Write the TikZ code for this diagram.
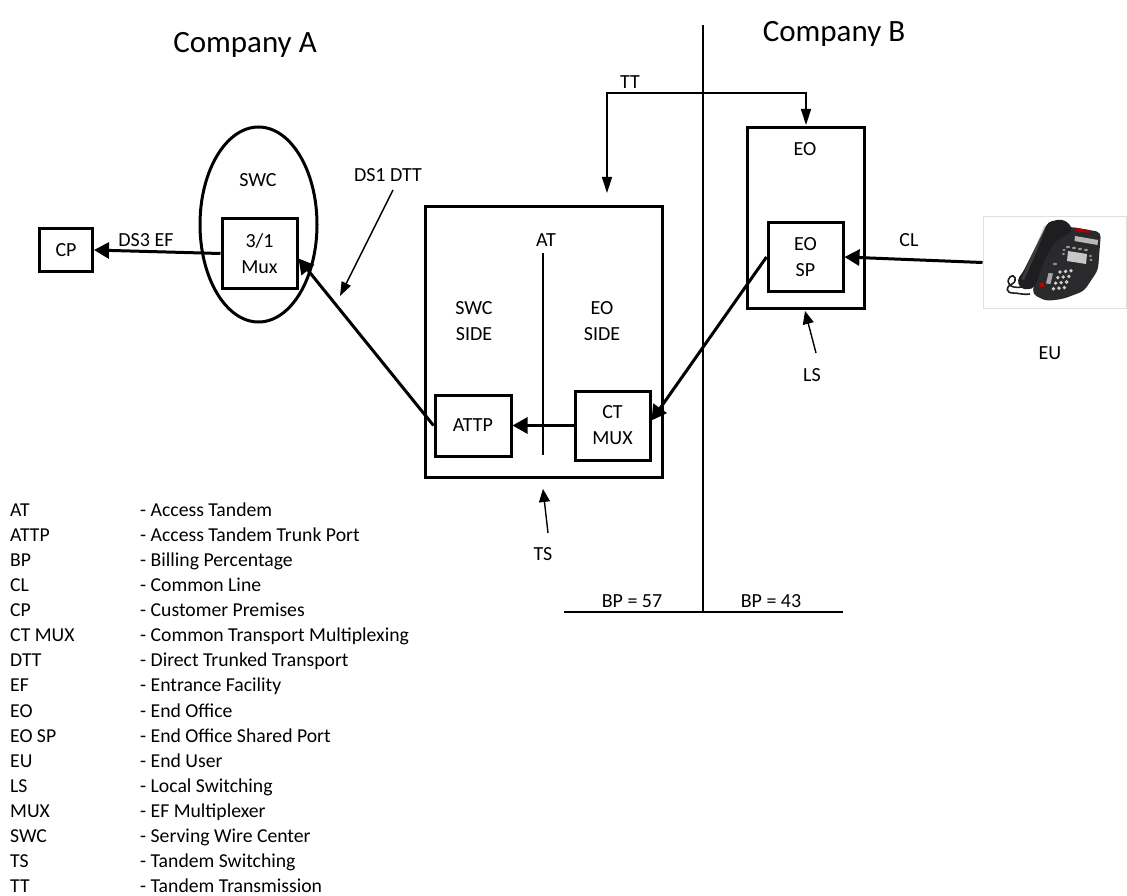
\documentclass[tikz,border=0pt]{standalone}
\usepackage{fontspec}
\setmainfont{Carlito}
\usetikzlibrary{arrows.meta,shapes.geometric}
\definecolor{phonedark}{RGB}{30,30,32}
\definecolor{phonebase}{RGB}{42,42,45}
\definecolor{phonekey}{RGB}{205,205,205}
\begin{document}
\begin{tikzpicture}[x=1pt,y=-1pt,
  every node/.style={font=\fontsize{20}{26}\selectfont, inner sep=0pt},
  box/.style 2 args={draw, line width=3pt, minimum width=#1, minimum height=#2, align=center},
  thickarrow/.style={line width=3pt, -{Triangle[length=15pt,width=16pt]}},
  thinline/.style={line width=1.4pt},
  thinarrow/.style={line width=1.4pt, -{Triangle[length=14pt,width=10pt]}},
  titlefont/.style={font=\fontsize{31}{36}\selectfont},
  legfont/.style={font=\fontsize{19.7}{24}\selectfont}]
\useasboundingbox (0,0) rectangle (1127,896);

% titles
\node[titlefont, anchor=base] (compA) at (245,53) {Company A};
\node[titlefont, anchor=base] (compB) at (834,42) {Company B};

% company divider and BP line
\coordinate (divTop) at (703,25);
\coordinate (divBot) at (703,612);
\coordinate (bpL) at (564,612);
\coordinate (bpR) at (843,612);
\draw[thinline] (divTop) -- (divBot);
\draw[thinline] (bpL) -- (bpR);
\node (bp57) at (632,601) {BP = 57};
\node (bp43) at (771,601) {BP = 43};

% Company A side
\node[box={53pt}{42pt}] (CP) at (66,250) {CP};
\node[draw, ellipse, line width=3pt, minimum width=117pt, minimum height=195pt] (SWCell) at (258.5,224.5) {};
\node (SWClbl) at (258,180) {SWC};
\node[box={75pt}{69pt}] (Mux) at (259.5,253.5) {3/1\\Mux};
\node (ds3) at (146,240) {DS3 EF};
\node (ds1) at (388,175) {DS1 DTT};
\coordinate (dttS) at (393,190);
\coordinate (dttE) at (340,296);
\draw[thinarrow] (dttS) -- (dttE);

% Access tandem
\node[box={237pt}{270pt}] (AT) at (543.5,342) {};
\node (ATlbl) at (546,240) {AT};
\coordinate (atTop) at (543,253);
\coordinate (atBot) at (543,455);
\draw[thinline] (atTop) -- (atBot);
\node[align=center] (swcside) at (474,321) {SWC\\SIDE};
\node[align=center] (eoside) at (602,321) {EO\\SIDE};
\node[box={76pt}{61pt}] (ATTP) at (473,425.5) {ATTP};
\node[box={75pt}{69pt}] (CTMUX) at (612.5,425.5) {CT\\MUX};
\node (TSlbl) at (543,554) {TS};
\coordinate (tsS) at (548,533);
\coordinate (tsE) at (543,489);
\draw[thinline, -{Triangle[length=13pt,width=11pt]}] (tsS) -- (tsE);

% End office
\node[box={117pt}{180pt}] (EO) at (805.5,218) {};
\node (EOlbl) at (805,149) {EO};
\node[box={75pt}{68pt}] (EOSP) at (805.5,257) {EO\\SP};
\node (LSlbl) at (812,375) {LS};
\coordinate (lsS) at (816,353);
\coordinate (lsE) at (805,311);
\draw[thinline, -{Triangle[length=13pt,width=11pt]}] (lsS) -- (lsE);
\node (CLlbl) at (909,240) {CL};
\node (EUlbl) at (1050,353) {EU};

% TT connector
\coordinate (ttA) at (607,193);
\coordinate (ttL) at (607,93);
\coordinate (ttR) at (806,93);
\coordinate (ttB) at (806,125);
\draw[thinline, {Triangle[length=16pt,width=10pt]}-{Triangle[length=16pt,width=10pt]}] (ttA) -- (ttL) -- (ttR) -- (ttB);
\node (TTlbl) at (630,82) {TT};

% phone picture
\node[draw=black!12, line width=1pt, minimum width=143pt, minimum height=91pt] (phone) at (1054.5,262.5) {};
% base
\fill[phonebase, rounded corners=5pt] (1064,226) -- (1101,232) -- (1098,270) -- (1084,291) -- (1063,299) -- (1046,301) -- (1032,294) -- (1045,240) -- cycle;
% red strip and display
\fill[red!65!black] (1075,227.5) -- (1089,230) -- (1088.5,233) -- (1074.5,230.5) -- cycle;
\fill[black!28] (1075,236) -- (1098,240) -- (1097.5,245) -- (1074.5,241) -- cycle;
\foreach \k in {0,1,2,3} {
  \fill[black!40] ({1068+6*\k},{247+1*\k}) ellipse (2 and 1.2);
}
\fill[black!22] (1068,251) -- (1087,254) -- (1086,264) -- (1067,261) -- cycle;
\foreach \k in {0,1} {
  \fill[black!40] ({1064-0.5*\k},{250+4*\k}) ellipse (1.8 and 1.1);
  \fill[black!40] ({1090.5+0.5*\k},{256+4*\k}) ellipse (1.8 and 1.1);
}
\fill[black!45] (1055,264) ellipse (2.2 and 1.3);
% keypad
\foreach \r in {0,1,2,3} {
  \foreach \c in {0,1,2} {
    \fill[phonekey] ({1060+5.5*\c-2.2*\r},{272+5.6*\r-0.6*\c}) circle (1.9);
  }
}
\fill[black!35] (1048.5,273) -- (1053,273.5) -- (1050.5,284) -- (1046,283.5) -- cycle;
\fill[red!75!black] (1042,285) circle (2.4);
% handset
\fill[phonedark, rounded corners=4pt] (1048,222) -- (1062,219) -- (1071,225) -- (1072,232) -- (1065,235) -- (1055,242) -- (1047,255) -- (1040,272) -- (1035,287) -- (1028,290) -- (1020,288) -- (1017,280) -- (1023,272) -- (1033,252) -- (1043,232) -- cycle;
\fill[black!55, opacity=0.35] (1046,226) .. controls (1040,245) and (1032,262) .. (1024,280) -- (1021,279) .. controls (1029,262) and (1037,244) .. (1044,226) -- cycle;
% cord
\draw[phonedark, line width=1.6pt] (1022,287) .. controls (1010,289) and (1005,283) .. (1010,277)
  .. controls (1015,273) and (1018,281) .. (1012,284)
  .. controls (1005,287) and (1006,293) .. (1013,293)
  .. controls (1019,293) and (1022,295) .. (1030,294);

% thick signal arrows
\draw[thickarrow] (Mux.west) -- (CP.east);
\draw[thickarrow] (ATTP.west) -- ([yshift=-5pt]Mux.east);
\draw[thickarrow] (CTMUX.west) -- (ATTP.east);
\draw[thickarrow] (EOSP.west) -- ([yshift=5pt]CTMUX.east);
\draw[thickarrow] (phone.west) -- (EOSP.east);

% legend
\foreach \ab/\ds [count=\i] in {AT/Access Tandem, ATTP/Access Tandem Trunk Port,
  BP/Billing Percentage, CL/Common Line, CP/Customer Premises,
  CT MUX/Common Transport Multiplexing, DTT/Direct Trunked Transport,
  EF/Entrance Facility, EO/End Office, EO SP/End Office Shared Port,
  EU/End User, LS/Local Switching, MUX/EF Multiplexer,
  SWC/Serving Wire Center, TS/Tandem Switching, TT/Tandem Transmission} {
  \node[legfont, anchor=base west] (la\i) at (10,{516+25.13*(\i-1)}) {\ab};
  \node[legfont, anchor=base west] (ld\i) at (140,{516+25.13*(\i-1)}) {- \ds};
}
\end{tikzpicture}
\end{document}
